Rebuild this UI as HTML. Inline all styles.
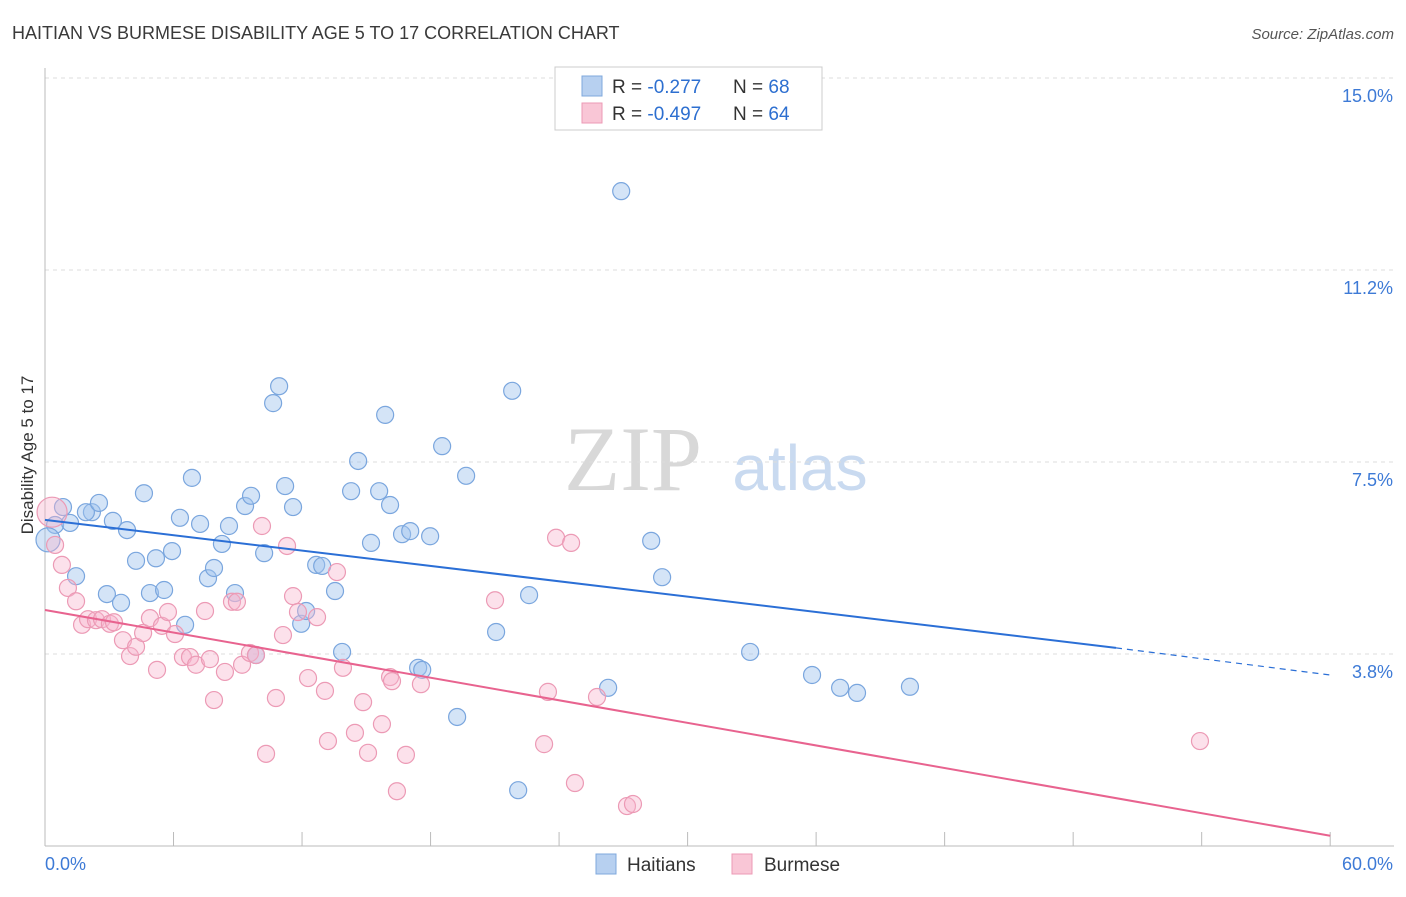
<!DOCTYPE html>
<html><head><meta charset="utf-8"><style>
body{margin:0;background:#fff;font-family:"Liberation Sans",sans-serif}
</style></head><body>
<svg id="chart" width="1406" height="892" viewBox="0 0 1406 892" xmlns="http://www.w3.org/2000/svg" font-family="Liberation Sans, sans-serif">
<text x="12" y="39" font-size="18" fill="#3a3a3a">HAITIAN VS BURMESE DISABILITY AGE 5 TO 17 CORRELATION CHART</text>
<text x="1394" y="39" font-size="15" fill="#555" text-anchor="end" font-style="italic">Source: ZipAtlas.com</text>
<text transform="translate(33,455) rotate(-90)" font-size="17" fill="#333" text-anchor="middle">Disability Age 5 to 17</text>
<g>
<text x="633" y="490" font-size="92" fill="#d8d8d8" font-family="Liberation Serif, serif" text-anchor="middle">ZIP</text>
<text x="800" y="490" font-size="64" fill="#c9daf0" text-anchor="middle">atlas</text>
</g>
<g id="grid"></g><g id="axes"></g><g id="marks"></g>
<g>
<rect x="555" y="67" width="267" height="63" fill="#fff" stroke="#ccc"/>
<rect x="582" y="76" width="20" height="20" fill="#b7d0f0" stroke="#7fa8dc"/>
<rect x="582" y="103" width="20" height="20" fill="#f9c6d6" stroke="#ec9ab5"/>
<text x="612" y="93" font-size="19" fill="#333">R = <tspan fill="#2d6fd0">-0.277</tspan></text>
<text x="733" y="93" font-size="19" fill="#333">N = <tspan fill="#2d6fd0">68</tspan></text>
<text x="612" y="120" font-size="19" fill="#333">R = <tspan fill="#2d6fd0">-0.497</tspan></text>
<text x="733" y="120" font-size="19" fill="#333">N = <tspan fill="#2d6fd0">64</tspan></text>
</g>
<g>
<rect x="596" y="854" width="20" height="20" fill="#b7d0f0" stroke="#7fa8dc"/>
<text x="627" y="871" font-size="19" fill="#333">Haitians</text>
<rect x="732" y="854" width="20" height="20" fill="#f9c6d6" stroke="#ec9ab5"/>
<text x="764" y="871" font-size="19" fill="#333">Burmese</text>
</g>
</svg>
<script>
const yTicks=[3.75,7.5,11.25,15];
const yTickLabels=["3.8%","7.5%","11.2%","15.0%"];
const xTickLabels=["0.0%","60.0%"];
const haitianX=[0.47,0.84,1.17,1.45,2.19,1.91,2.52,2.89,3.17,3.55,3.83,4.25,4.62,4.90,5.18,5.56,5.93,6.30,6.54,6.86,7.24,7.61,7.89,8.26,8.59,8.87,9.34,9.62,9.85,10.23,10.65,10.93,11.21,11.58,11.96,12.19,12.66,12.94,13.54,13.87,14.29,14.62,15.22,15.60,15.88,16.11,16.67,17.05,17.42,17.61,17.98,18.54,19.24,19.66,21.06,21.81,22.09,22.60,26.29,26.90,28.30,28.81,32.92,35.81,37.12,37.91,40.38,0.14];
const haitianY=[6.27,6.62,6.31,5.27,6.52,6.52,6.70,4.92,6.35,4.75,6.17,5.57,6.89,4.94,5.62,5.00,5.76,6.41,4.32,7.19,6.29,5.23,5.43,5.90,6.25,4.94,6.64,6.84,3.73,5.72,8.65,8.98,7.03,6.62,4.34,4.59,5.49,5.47,4.98,3.79,6.93,7.52,5.92,6.93,8.42,6.66,6.09,6.15,3.48,3.44,6.05,7.81,2.52,7.23,4.18,8.89,1.09,4.90,3.09,12.79,5.96,5.25,3.79,3.34,3.09,2.99,3.11,5.98];
const burmeseX=[0.33,0.47,0.79,1.07,1.45,1.73,2.01,2.38,2.66,3.03,3.22,3.64,3.97,4.25,4.58,4.90,5.23,5.46,5.74,6.07,6.44,6.77,7.05,7.47,7.70,7.89,8.40,8.73,8.96,9.20,9.57,9.85,10.13,10.32,10.78,11.11,11.30,11.58,11.81,12.28,12.70,13.07,13.21,13.63,13.91,14.47,14.85,15.08,15.73,16.11,16.20,16.43,16.85,17.55,21.01,23.30,23.48,23.86,24.56,24.74,25.77,27.17,27.45,53.92];
const burmeseY=[6.52,5.88,5.49,5.04,4.78,4.32,4.43,4.41,4.43,4.34,4.37,4.02,3.71,3.89,4.16,4.45,3.44,4.30,4.57,4.14,3.69,3.69,3.54,4.59,3.65,2.85,3.40,4.77,4.77,3.54,3.77,3.73,6.25,1.80,2.89,4.12,5.86,4.88,4.57,3.28,4.47,3.03,2.05,5.35,3.48,2.21,2.81,1.82,2.38,3.30,3.22,1.07,1.78,3.16,4.80,1.99,3.01,6.02,5.92,1.23,2.91,0.78,0.82,2.05];
const haitianTrend=[6.37,3.87,3.34]; // at x=0, 50, 60
const burmeseTrend=[4.61,0.2]; // at x=0, 60
const NS="http://www.w3.org/2000/svg";
const X=v=>45+v*21.42, Y=v=>846-v*51.2;
function mk(t,a,p){const e=document.createElementNS(NS,t);for(const k in a)e.setAttribute(k,a[k]);p.appendChild(e);return e;}
const grid=document.getElementById('grid'),axes=document.getElementById('axes'),marks=document.getElementById('marks');
yTicks.forEach((t,i)=>{
 const l=mk('line',{x1:45,x2:1394,y1:Y(t),y2:Y(t),stroke:'#ddd','stroke-dasharray':'4,4'},grid);
 
 
 const tx=mk('text',{x:1393,y:Y(t)+24,'font-size':18,fill:'#3d7ad6','text-anchor':'end'},axes);
 tx.textContent=yTickLabels[i];
 
 
});
const ax=mk('line',{x1:45,x2:1394,y1:846,y2:846,stroke:'#bbb'},axes);


const ay=mk('line',{x1:45,x2:45,y1:68,y2:846,stroke:'#bbb'},axes);


for(let i=0;i<=10;i++){const t=mk('line',{x1:X(i*6),x2:X(i*6),y1:832,y2:846,stroke:'#bbb'},axes);
 
 }
[[0,'start',45],[60,'end',1393]].forEach((d,i)=>{const t=mk('text',{x:d[2],y:870,'font-size':18,fill:'#3d7ad6','text-anchor':d[1]},axes);t.textContent=xTickLabels[i];
 
 });
function dots(xs,ys,fill,stroke,name){xs.forEach((x,i)=>{const big=i===0&&name==='burmese-point'?15:(i===xs.length-1&&name==='haitian-point'?12:8.5);
 const c=mk('circle',{cx:X(x),cy:Y(ys[i]),r:big,fill:fill,stroke:stroke,'stroke-width':1.2},marks);
 
 });}
dots(haitianX,haitianY,'rgba(160,195,238,0.45)','#7aa6de','haitian-point');
dots(burmeseX,burmeseY,'rgba(248,180,205,0.4)','#ec9ab5','burmese-point');
const bt=mk('line',{x1:X(0),y1:Y(haitianTrend[0]),x2:X(50),y2:Y(haitianTrend[1]),stroke:'#2b6fd6','stroke-width':2},marks);


const bd=mk('line',{x1:X(50),y1:Y(haitianTrend[1]),x2:X(60),y2:Y(haitianTrend[2]),stroke:'#2b6fd6','stroke-width':1.2,'stroke-dasharray':'6,5'},marks);


const pt=mk('line',{x1:X(0),y1:Y(burmeseTrend[0]),x2:X(60),y2:Y(burmeseTrend[1]),stroke:'#e8638f','stroke-width':2},marks);


</script>
</body></html>
